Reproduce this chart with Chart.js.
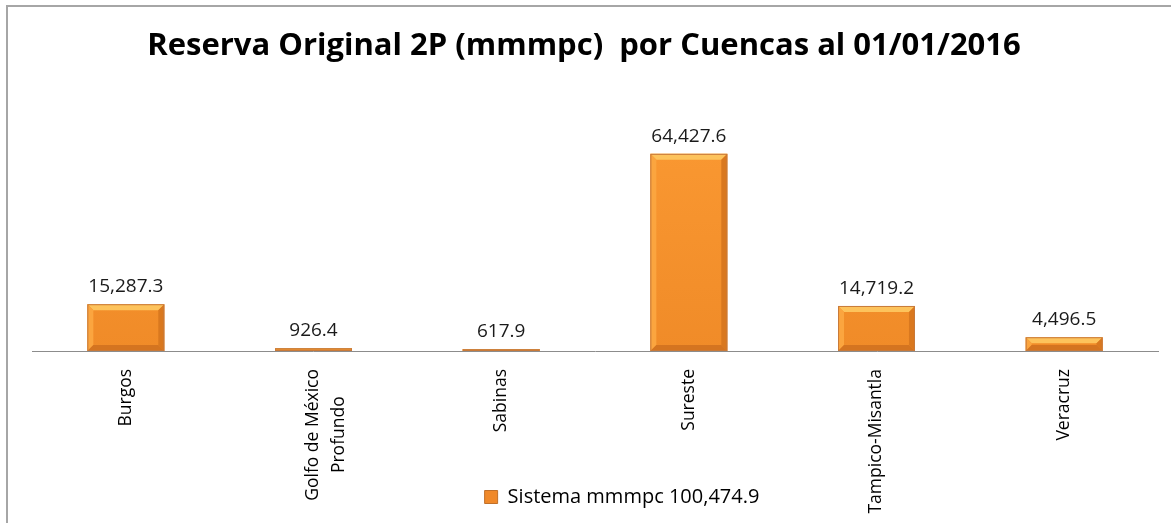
<!DOCTYPE html>
<html>
<head>
<meta charset="utf-8">
<script src="https://cdn.jsdelivr.net/npm/chart.js@4/dist/chart.umd.min.js"></script>
<style>
  html, body { margin: 0; padding: 0; background: #fff; overflow: hidden; }
  #frame { position: absolute; left: 6px; top: 5px; width: 1200px; height: 560px; border: 2px solid #a6a6a6; box-sizing: border-box; }
  #wrap { position: absolute; left: 0; top: 0; width: 1171px; height: 523px; }
</style>
</head>
<body>
<div id="frame"></div>
<div id="wrap"><canvas id="myChart" width="1171" height="523"></canvas></div>
<script>
const cuencas = ['Burgos', ['Golfo de México', 'Profundo'], 'Sabinas', 'Sureste', 'Tampico-Misantla', 'Veracruz'];
const reserva = [15287.3, 926.4, 617.9, 64427.6, 14719.2, 4496.5];
const serieNombre = 'Sistema mmmpc 100,474.9';
const titulo = 'Reserva Original 2P (mmmpc)  por Cuencas al 01/01/2016';

const FONT = "'Open Sans'";
const TICK_SIZE = 17.5;

const fmt = new Intl.NumberFormat('en-US', { minimumFractionDigits: 1, maximumFractionDigits: 1 });

// two-line labels: pad the shorter line so both lines sit centred once rotated
const measure = document.createElement('canvas').getContext('2d');
measure.font = TICK_SIZE + 'px ' + FONT;
function centerLines(lines) {
	if (!Array.isArray(lines)) return lines;
	const widest = Math.max(...lines.map((l) => measure.measureText(l).width));
	const nb = measure.measureText('\u00a0').width;
	return lines.map((l) => {
		const n = Math.round((widest - measure.measureText(l).width) / 2 / nb);
		return l + '\u00a0'.repeat(n);
	});
}

// bevelled edges on each bar, like the office "soft bevel" look
const bevelBars = {
	id: 'bevelBars',
	afterDatasetsDraw(chart) {
		const c = chart.ctx;
		chart.getDatasetMeta(0).data.forEach((bar) => {
			const l = bar.x - bar.width / 2, r = bar.x + bar.width / 2;
			const t = bar.y, b = bar.base;
			const h = b - t;
			const s = Math.min(6, h / 2);
			if (h < 1) return;
			c.save();
			// top
			c.fillStyle = '#fdc35c';
			c.beginPath(); c.moveTo(l, t); c.lineTo(r, t); c.lineTo(r - s, t + s); c.lineTo(l + s, t + s); c.closePath(); c.fill();
			// left
			c.fillStyle = '#fba53f';
			c.beginPath(); c.moveTo(l, t); c.lineTo(l + s, t + s); c.lineTo(l + s, b - s); c.lineTo(l, b); c.closePath(); c.fill();
			// right
			c.fillStyle = '#d9781f';
			c.beginPath(); c.moveTo(r, t); c.lineTo(r, b); c.lineTo(r - s, b - s); c.lineTo(r - s, t + s); c.closePath(); c.fill();
			// bottom
			c.fillStyle = '#d47420';
			c.beginPath(); c.moveTo(l, b); c.lineTo(r, b); c.lineTo(r - s, b - s); c.lineTo(l + s, b - s); c.closePath(); c.fill();
			c.strokeStyle = '#c87a3a';
			c.lineWidth = 1;
			c.strokeRect(l + 0.5, t + 0.5, r - l - 1, h - 1);
			c.restore();
		});
	}
};

// value written above each bar
const valueLabels = {
	id: 'valueLabels',
	afterDatasetsDraw(chart) {
		const c = chart.ctx;
		const ds = chart.data.datasets[0];
		c.save();
		c.font = '19px ' + FONT;
		c.fillStyle = '#1a1a1a';
		c.textAlign = 'center';
		c.textBaseline = 'bottom';
		chart.getDatasetMeta(0).data.forEach((bar, i) => {
			c.fillText(fmt.format(ds.data[i]), bar.x, bar.y - 8);
		});
		c.restore();
	}
};

// long category names run down past the axis box into the legend strip;
// title and legend sit a little off the plot's centre
const tweakLayout = {
	id: 'tweakLayout',
	afterLayout(chart) {
		chart.scales.x.bottom = chart.height;
		chart.titleBlock.left -= 11;
		chart.titleBlock.right -= 11;
		chart.legend.left += 27;
		chart.legend.right += 27;
	}
};

const ctx = document.getElementById('myChart');

new Chart(ctx, {
	type: 'bar',
	data: {
		labels: cuencas.map(centerLines),
		datasets: [{
			label: serieNombre,
			data: reserva,
			backgroundColor: (context) => {
				const area = context.chart.chartArea;
				if (!area) return '#f7932e';
				const g = context.chart.ctx.createLinearGradient(0, area.top, 0, area.bottom);
				g.addColorStop(0, '#fb9a33');
				g.addColorStop(1, '#f08b28');
				return g;
			},
			borderWidth: 0,
			barPercentage: 0.41,
			categoryPercentage: 1
		}]
	},
	options: {
		responsive: false,
		animation: false,
		layout: {
			padding: { left: 32, right: 13, top: 0, bottom: 6 }
		},
		plugins: {
			title: {
				display: true,
				text: titulo,
				color: '#000',
				font: { family: FONT, size: 31, weight: 'bold' },
				padding: { top: 28, bottom: 41 }
			},
			legend: {
				position: 'bottom',
				labels: {
					color: '#1a1a1a',
					font: { family: FONT, size: 20 },
					boxWidth: 13,
					boxHeight: 13,
					padding: 7,
					generateLabels: () => [{
						text: serieNombre,
						fillStyle: '#f0892a',
						strokeStyle: '#c0702a',
						lineWidth: 1,
						datasetIndex: 0
					}]
				}
			},
			tooltip: { enabled: false }
		},
		scales: {
			x: {
				grid: { display: false },
				border: { display: true, color: '#8c8c8c', width: 1 },
				ticks: {
					color: '#000',
					font: { family: FONT, size: TICK_SIZE, lineHeight: 1.45 },
					minRotation: 90,
					maxRotation: 90,
					padding: 10
				},
				afterFit: (scale) => { scale.height = 129; }
			},
			y: {
				display: false,
				min: 0,
				max: 80000
			}
		}
	},
	plugins: [bevelBars, valueLabels, tweakLayout]
});
</script>
</body>
</html>
